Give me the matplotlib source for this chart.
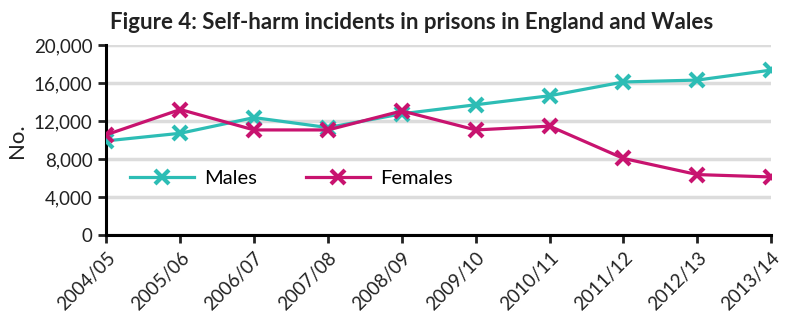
import numpy as np
import matplotlib.pyplot as plt
from matplotlib.ticker import FuncFormatter

# Datos
years = ['2004/05', '2005/06', '2006/07', '2007/08', '2008/09',
         '2009/10', '2010/11', '2011/12', '2012/13', '2013/14']
males = [9950, 10750, 12400, 11350, 12800, 13750, 14700, 16150, 16350, 17400]
females = [10600, 13250, 11100, 11100, 13100, 11100, 11500, 8100, 6400, 6150]

teal = '#2dbdb5'
magenta = '#c8136f'

plt.rcParams['font.family'] = ['Lato', 'DejaVu Sans']

fig = plt.figure(figsize=(8, 3.22), dpi=100)
ax = fig.add_axes([0.133, 0.269, 0.831, 0.590])

x = np.arange(len(years))
ax.plot(x, males, color=teal, lw=2.3, marker='x', ms=10, mew=3, label='Males', zorder=3)
ax.plot(x, females, color=magenta, lw=2.3, marker='x', ms=10, mew=3, label='Females', zorder=3)

# Ejes
ax.set_xlim(0, 9)
ax.set_ylim(0, 20000)
ax.set_yticks(np.arange(0, 20001, 4000))
ax.yaxis.set_major_formatter(FuncFormatter(lambda v, p: f'{int(v):,}'))
ax.set_xticks(x)
ax.set_xticklabels(years, rotation=45, ha='right', rotation_mode='anchor')
ax.tick_params(axis='both', labelsize=13.5, colors='#222222', width=2, length=6, pad=4)

for s in ['top', 'right']:
    ax.spines[s].set_visible(False)
for s in ['left', 'bottom']:
    ax.spines[s].set_linewidth(2.2)
    ax.spines[s].set_color('black')

ax.yaxis.grid(True, color='#dcdcdc', lw=2.5)
ax.set_axisbelow(True)

ax.set_ylabel('No.', fontsize=16, color='#222222', labelpad=5)
fig.text(0.514, 0.929, 'Figure 4: Self-harm incidents in prisons in England and Wales',
         ha='center', va='center', fontsize=16, fontweight='bold', color='#222222')

ax.legend(loc='center left', bbox_to_anchor=(0.008, 0.3), ncol=2, frameon=False,
          fontsize=14.5, handlelength=3.2, columnspacing=2.4, handletextpad=0.5)

fig.savefig('out.png', dpi=100)
